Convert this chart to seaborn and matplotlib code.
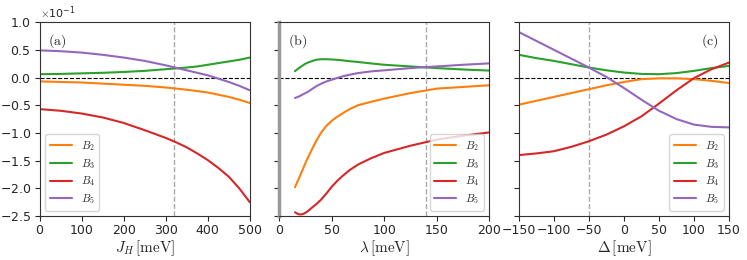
import numpy as np
import pandas as pd
import matplotlib
matplotlib.use("Agg")
import matplotlib.pyplot as plt
import seaborn as sns

# values, in units of 1e-1
jh = [0, 50, 100, 150, 200, 250, 300, 325, 350, 375, 400, 425, 450, 475, 500]
jh_b2 = [-0.07, -0.08, -0.09, -0.11, -0.13, -0.15, -0.18, -0.20, -0.22, -0.245, -0.27, -0.31, -0.35, -0.40, -0.46]
jh_b3 = [0.06, 0.065, 0.075, 0.085, 0.10, 0.12, 0.15, 0.165, 0.18, 0.20, 0.23, 0.26, 0.29, 0.32, 0.36]
jh_b4 = [-0.57, -0.60, -0.65, -0.72, -0.82, -0.95, -1.09, -1.17, -1.26, -1.37, -1.49, -1.63, -1.79, -2.00, -2.25]
jh_b5 = [0.49, 0.475, 0.45, 0.41, 0.36, 0.30, 0.22, 0.175, 0.13, 0.085, 0.04, -0.02, -0.08, -0.15, -0.23]

lam = [15, 17, 19, 21, 23, 25, 28, 31, 35, 40, 45, 50, 55, 60, 67, 75, 87, 100, 125, 150, 175, 200]
lam_b2 = [-1.98, -1.89, -1.81, -1.72, -1.63, -1.54, -1.42, -1.30, -1.15, -0.99, -0.87, -0.78, -0.71, -0.65, -0.57, -0.50, -0.44, -0.38, -0.28, -0.20, -0.17, -0.14]
lam_b3 = [0.115, 0.145, 0.175, 0.20, 0.225, 0.25, 0.275, 0.295, 0.32, 0.33, 0.33, 0.325, 0.32, 0.31, 0.295, 0.28, 0.255, 0.23, 0.20, 0.17, 0.145, 0.125]
lam_b4 = [-2.43, -2.455, -2.47, -2.47, -2.46, -2.44, -2.40, -2.35, -2.29, -2.20, -2.09, -1.97, -1.87, -1.78, -1.67, -1.57, -1.46, -1.36, -1.23, -1.12, -1.05, -0.99]
lam_b5 = [-0.37, -0.355, -0.34, -0.32, -0.30, -0.28, -0.25, -0.21, -0.16, -0.11, -0.07, -0.04, -0.01, 0.02, 0.05, 0.08, 0.11, 0.13, 0.17, 0.20, 0.23, 0.255]

delta = [-150, -125, -100, -75, -50, -25, 0, 25, 50, 75, 100, 125, 150]
de_b2 = [-0.49, -0.42, -0.35, -0.28, -0.21, -0.14, -0.08, -0.03, -0.015, -0.015, -0.03, -0.06, -0.10]
de_b3 = [0.41, 0.35, 0.30, 0.24, 0.18, 0.13, 0.09, 0.065, 0.06, 0.08, 0.12, 0.17, 0.21]
de_b4 = [-1.40, -1.37, -1.33, -1.25, -1.15, -1.03, -0.88, -0.70, -0.47, -0.23, -0.01, 0.15, 0.27]
de_b5 = [0.82, 0.66, 0.50, 0.34, 0.18, 0.01, -0.19, -0.40, -0.60, -0.75, -0.85, -0.89, -0.90]

labels = [r'$B_2$', r'$B_3$', r'$B_4$', r'$B_5$']
vlines = [320, 140, -50]
xlims = [(0, 500), (0, 200), (-150, 150)]
xticks = [[0, 100, 200, 300, 400, 500], [0, 50, 100, 150, 200],
          [-150, -100, -50, 0, 50, 100, 150]]
xlabels = [r'$J_H\,[\mathrm{meV}]$', r'$\lambda\,[\mathrm{meV}]$', r'$\Delta\,[\mathrm{meV}]$']
tags = ['(a)', '(b)', '(c)']

sns.set_style("ticks")
plt.rcParams['font.family'] = ['DejaVu Sans']
plt.rcParams['mathtext.fontset'] = 'cm'
plt.rcParams['axes.edgecolor'] = '#333333'
colors = sns.color_palette("tab10")[1:5]

panels = [
    (jh, [jh_b2, jh_b3, jh_b4, jh_b5]),
    (lam, [lam_b2, lam_b3, lam_b4, lam_b5]),
    (delta, [de_b2, de_b3, de_b4, de_b5]),
]

fig, axes = plt.subplots(1, 3, figsize=(7.47, 2.6), dpi=100, sharey=True)
fig.subplots_adjust(left=0.053, right=0.976, bottom=0.169, top=0.915, wspace=0.14)

for i, ax in enumerate(axes):
    xs, series = panels[i]
    ax.axhline(0, color='black', ls='--', lw=0.8, zorder=1)
    ax.axvline(vlines[i], color='#aaaaaa', ls='--', lw=1.0, zorder=1)
    for ys, c, lab in zip(series, colors, labels):
        df = pd.DataFrame({'x': xs, 'y': np.array(ys) * 0.1})
        sns.lineplot(data=df, x='x', y='y', ax=ax, color=c, lw=1.5, label=lab)
    ax.set_xlim(*xlims[i])
    ax.set_xticks(xticks[i])
    ax.set_ylim(-0.25, 0.1)
    ax.set_xlabel(xlabels[i], fontsize=11, labelpad=1)
    ax.set_ylabel('')
    ax.tick_params(labelsize=9, length=3.5, width=0.8, pad=2.5)
    loc = 'lower left' if i == 0 else 'lower right'
    ax.legend(loc=loc, fontsize=8, handlelength=2.0, framealpha=0.8,
              borderpad=0.4, labelspacing=0.35)
    if i == 2:
        ax.text(0.95, 0.9, r'$\mathrm{' + tags[i] + '}$', transform=ax.transAxes,
                ha='right', va='center', fontsize=10)
    else:
        ax.text(0.04, 0.9, r'$\mathrm{' + tags[i] + '}$', transform=ax.transAxes,
                ha='left', va='center', fontsize=10)

axes[0].set_yticks([-0.25, -0.2, -0.15, -0.1, -0.05, 0.0, 0.05, 0.1])
axes[0].ticklabel_format(axis='y', style='sci', scilimits=(0, 0), useMathText=True)
axes[0].yaxis.get_offset_text().set_fontsize(8)
axes[1].spines['left'].set_color('#999999')
axes[1].spines['left'].set_linewidth(2.5)

fig.savefig('out.png', dpi=100)
